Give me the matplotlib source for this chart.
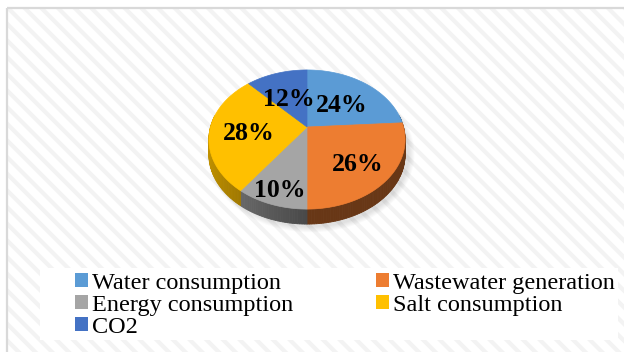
import numpy as np
import matplotlib
matplotlib.use('Agg')
import matplotlib.pyplot as plt
from matplotlib.patches import Polygon, Rectangle, Patch, Ellipse

# Share of each impact category (percent)
labels = ['Water consumption', 'Wastewater generation', 'Energy consumption', 'Salt consumption', 'CO2']
shares = [24, 26, 10, 28, 12]
colors = ['#5B9BD5', '#ED7D31', '#A5A5A5', '#FFC000', '#4472C4']

plt.rcParams['font.family'] = ['Liberation Serif', 'DejaVu Serif']
plt.rcParams['hatch.linewidth'] = 3.0

# pie geometry in pixel units (top face, perspective tilt)
CX, CY = 307.0, 127.0
A, B = 96.5, 67.3
P = 0.18
DEPTH = 15.0
LABEL_R = [0.56, 0.66, 0.8, 0.6, 0.55]
LABEL_DY = 4.0

def proj(theta, r=1.0, dz=0.0):
    u = r*np.sin(theta)
    v = r*np.cos(theta)
    w = 1.0+P*v
    return CX+A*u/w, CY-B*v/w+dz

def shade(c, f):
    rgb = np.array(matplotlib.colors.to_rgb(c))
    return tuple(np.clip(rgb*f, 0, 1))

fig = plt.figure(figsize=(6.24,3.52), dpi=100, facecolor='w')
ax = fig.add_axes([0,0,1,1])
ax.set_xlim(0,624)
ax.set_ylim(352,0)
ax.axis('off')

# chart area: faint diagonal stripes and light border
ax.add_patch(Rectangle((7,8), 640, 360, facecolor='w', edgecolor='#f3f3f3', lw=0, hatch='\\\\', zorder=0))
ax.add_patch(Rectangle((7,8), 640, 360, facecolor='none', edgecolor='#d9d9d9', lw=1.6, zorder=1))

# soft shadow under the pie
for k in range(6):
    ax.add_patch(Ellipse((CX+4, CY+DEPTH+12), 2*A+14-2*k, 2*B+22-2*k, facecolor='#000000', alpha=0.02, lw=0, zorder=2))

fr = np.array(shares, dtype=float)/np.sum(shares)
edges = np.concatenate([[0.0], np.cumsum(fr)])*2*np.pi

# side walls, shaded darker towards the right
for i in range(len(shares)):
    t0, t1 = edges[i], edges[i+1]
    lo, hi = max(t0, np.radians(80)), min(t1, np.radians(280))
    if hi <= lo:
        continue
    ts = np.linspace(lo, hi, max(int((hi-lo)/0.02), 2))
    for ta, tb in zip(ts[:-1], ts[1:]):
        xa, ya = proj(ta)
        xb, yb = proj(tb)
        f = 0.44+0.32*max(-np.sin(0.5*(ta+tb)), 0.0)
        c = shade(colors[i], f)
        ax.add_patch(Polygon([(xa,ya),(xb,yb),(xb,yb+DEPTH),(xa,ya+DEPTH)], closed=True,
                             facecolor=c, edgecolor=c, lw=0.6, zorder=3))

# top faces
for i in range(len(shares)):
    ts = np.linspace(edges[i], edges[i+1], 80)
    xs, ys = proj(ts)
    pts = [(CX,CY)]+list(zip(xs, ys))
    ax.add_patch(Polygon(pts, closed=True, facecolor=colors[i], edgecolor=colors[i], lw=0.5, zorder=4))

# percentage labels
for i in range(len(shares)):
    tm = 0.5*(edges[i]+edges[i+1])
    x, y = proj(tm, LABEL_R[i])
    ax.text(x, y+LABEL_DY, '{}%'.format(shares[i]), ha='center', va='center', fontsize=18.5,
            fontweight='bold', color='k', zorder=5)

# legend on white panel
ax.add_patch(Rectangle((40,268), 578, 72, facecolor='w', edgecolor='none', zorder=1))
order = [0, 2, 4, 1, 3]
handles = [Patch(facecolor=colors[i], edgecolor='none') for i in order]
leg = ax.legend(handles, [labels[i] for i in order], ncol=2, loc='upper left',
                bbox_to_anchor=(75,273), bbox_transform=ax.transData, frameon=False,
                fontsize=17.5, handlelength=0.55, handleheight=0.52, handletextpad=0.15,
                columnspacing=3.4, labelspacing=0.04, borderpad=0.0, borderaxespad=0.0)

fig.savefig('out.png', dpi=100)
